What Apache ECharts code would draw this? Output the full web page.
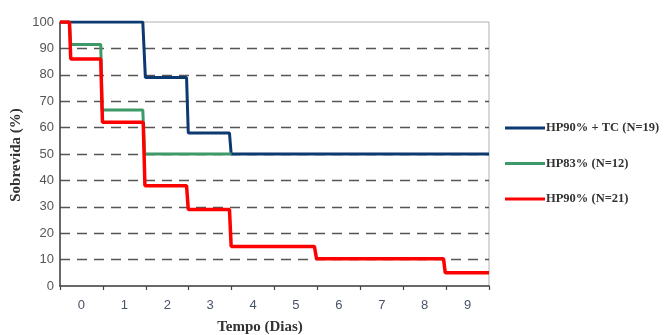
<!DOCTYPE html>
<html>
<head>
<meta charset="utf-8">
<script src="https://cdn.jsdelivr.net/npm/echarts@6/dist/echarts.min.js"></script>
<style>html,body{margin:0;padding:0;background:#fff}#c{width:664px;height:335px}</style>
</head>
<body>
<div id="c"></div>
<script>
// Data (x = days, y = survival %)
const xLabels = ['0','1','2','3','4','5','6','7','8','9'];
const yTicks = [0,10,20,30,40,50,60,70,80,90,100];
const seriesNames = ['HP90% + TC (N=19)', 'HP83% (N=12)', 'HP90% (N=21)'];
const blueX = [0, 1.93, 1.99, 2.95, 2.99, 3.95, 3.99, 10];
const blueY = [100, 100, 79, 79, 58, 58, 50, 50];
const greenX = [0, 0.22, 0.25, 0.95, 0.98, 1.93, 1.97, 4];
const greenY = [100, 100, 91.5, 91.5, 66.7, 66.7, 50, 50];
const redX = [0, 0.22, 0.25, 0.95, 0.99, 1.94, 1.98, 2.95, 2.99, 3.95, 3.99, 5.93, 5.98, 8.94, 8.98, 10];
const redY = [100, 100, 86, 86, 62, 62, 38, 38, 29, 29, 15, 15, 10.3, 10.3, 5, 5];

const zip = (xs, ys) => xs.map((x, i) => [x, ys[i]]);
const colors = ['#0c3a70', '#3d9a68', '#ff0000'];

const chart = echarts.init(document.getElementById('c'), null, {renderer: 'canvas'});
chart.setOption({
  animation: false,
  backgroundColor: '#ffffff',
  grid: {left: 60, right: 175, top: 22, bottom: 49, show: true, borderColor: '#b0b0b0', borderWidth: 1},
  xAxis: [
    {type: 'value', min: 0, max: 10, interval: 1, position: 'bottom',
     axisLine: {show: true, lineStyle: {color: '#444', width: 1.5}},
     axisTick: {show: true, length: 4, lineStyle: {color: '#444', width: 1.2}},
     axisLabel: {show: false}, splitLine: {show: false}},
    {type: 'category', data: xLabels, position: 'bottom', boundaryGap: true,
     axisLine: {show: false}, axisTick: {show: false}, splitLine: {show: false},
     axisLabel: {margin: 13, fontSize: 13, color: '#4a5468', fontFamily: 'Liberation Sans'}}
  ],
  yAxis: {type: 'value', min: 0, max: 100, interval: 10,
    axisLine: {show: true, lineStyle: {color: '#444', width: 1.5}},
    axisTick: {show: false},
    axisLabel: {margin: 6, fontSize: 13, color: '#555', fontFamily: 'Liberation Sans'},
    splitLine: {show: true, showMinLine: false, showMaxLine: false,
      lineStyle: {color: '#555', width: 1.3, type: [10, 7]}}
  },
  legend: {
    orient: 'vertical', left: 505, top: 121, padding: 0, itemGap: 21.5,
    itemWidth: 40, itemHeight: 3, icon: 'rect',
    data: seriesNames,
    textStyle: {fontFamily: 'Liberation Serif', fontWeight: 'bold', fontSize: 12.5, color: '#333', lineHeight: 14, padding: [0, 0, 0, -4]}
  },
  graphic: [
    {type: 'text', style: {text: 'Tempo (Dias)', x: 260, y: 327, align: 'center', verticalAlign: 'middle', font: 'bold 15px "Liberation Serif"', fill: '#333'}},
    {type: 'text', x: 16.5, y: 155, rotation: Math.PI / 2, style: {text: 'Sobrevida (%)', x: 0, y: 0, align: 'center', verticalAlign: 'middle', font: 'bold 15px "Liberation Serif"', fill: '#333'}}
  ],
  series: [
    {name: seriesNames[0], type: 'line', xAxisIndex: 0, data: zip(blueX, blueY), showSymbol: false, symbol: 'none',
     lineStyle: {color: colors[0], width: 3}, itemStyle: {color: colors[0]}},
    {name: seriesNames[1], type: 'line', xAxisIndex: 0, data: zip(greenX, greenY), showSymbol: false, symbol: 'none',
     lineStyle: {color: colors[1], width: 3}, itemStyle: {color: colors[1]}},
    {name: seriesNames[2], type: 'line', xAxisIndex: 0, data: zip(redX, redY), showSymbol: false, symbol: 'none',
     lineStyle: {color: colors[2], width: 3.5}, itemStyle: {color: colors[2]}}
  ]
});
</script>
</body>
</html>
